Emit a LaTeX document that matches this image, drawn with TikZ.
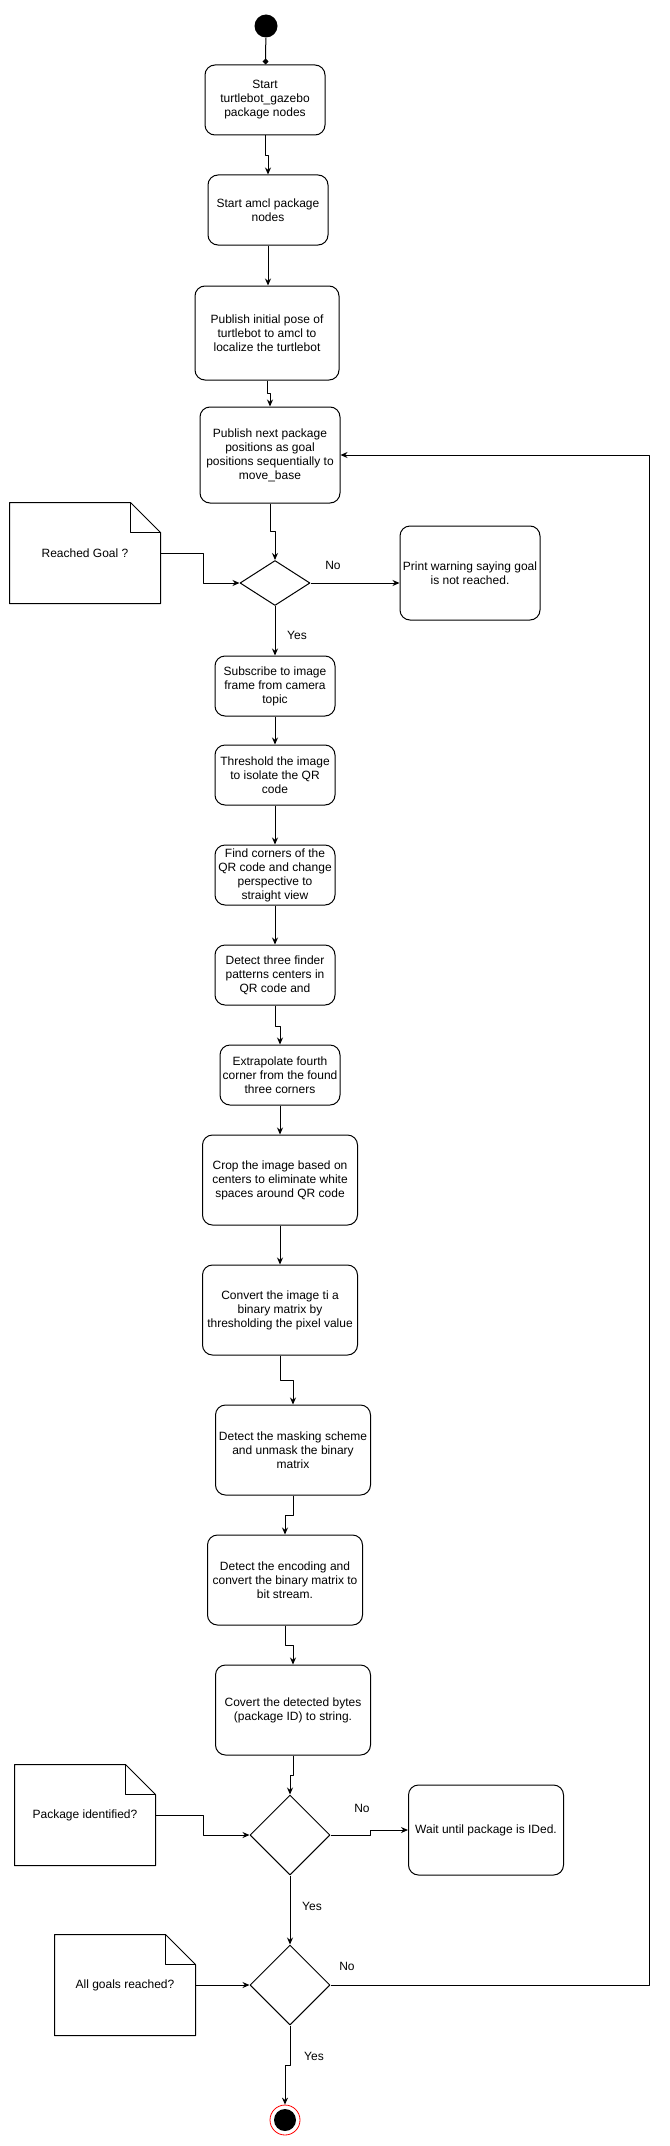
\documentclass[tikz,border=0pt]{standalone}
\usepackage{fontspec}
\setmainfont{Liberation Sans}
\usetikzlibrary{arrows.meta,shapes.geometric,calc}
\begin{document}
\begin{tikzpicture}[x=1pt,y=-1pt,>={Stealth[length=7pt,width=6pt]},line join=round,line width=1pt,
	font=\fontsize{12}{14}\selectfont,
	act/.style={draw,rounded corners=10pt,align=center,inner sep=1pt},
	dec/.style={draw,diamond,inner sep=0pt},
	note/.style={align=center,inner sep=0pt},
	lbl/.style={inner sep=0pt}]
	\useasboundingbox (0,0) rectangle (669,2146);
	\node[circle,fill,minimum size=23pt,inner sep=0pt] (start) at (266,26) {};
	\node[act,minimum width=120,minimum height=70] (b1) at (265,100) {Start\\turtlebot\_gazebo\\package nodes};
	\node[act,minimum width=120,minimum height=70] (b2) at (268,210) {Start amcl package\\nodes};
	\node[act,minimum width=144,minimum height=94] (b3) at (267,333) {Publish initial pose of\\turtlebot to amcl to\\localize the turtlebot};
	\node[act,minimum width=140,minimum height=96] (b4) at (270,455) {Publish next package\\positions as goal\\positions sequentially to\\move\_base};
	\node[dec,minimum width=70,minimum height=45] (d1) at (275,583) {};
	\node[note,minimum width=150,minimum height=100] (n1) at (85,553) {Reached Goal ?};
	\node[act,minimum width=140,minimum height=94] (warn) at (470,573) {Print warning saying goal\\is not reached.};
	\node[act,minimum width=120,minimum height=60] (b5) at (275,686) {Subscribe to image\\frame from camera\\topic};
	\node[act,minimum width=120,minimum height=60] (b6) at (275,775) {Threshold the image\\to isolate the QR\\code};
	\node[act,minimum width=120,minimum height=60] (b7) at (275,875) {Find corners of the\\QR code and change\\perspective to\\straight view};
	\node[act,minimum width=120,minimum height=60] (b8) at (275,975) {Detect three finder\\patterns centers in\\QR code and};
	\node[act,minimum width=120,minimum height=60] (b9) at (280,1075) {Extrapolate fourth\\corner from the found\\three corners};
	\node[act,minimum width=155,minimum height=90] (b10) at (280,1180) {Crop the image based on\\centers to eliminate white\\spaces around QR code};
	\node[act,minimum width=155,minimum height=90] (b11) at (280,1310) {Convert the image ti a\\binary matrix by\\thresholding the pixel value};
	\node[act,minimum width=155,minimum height=90] (b12) at (293,1450) {Detect the masking scheme\\and unmask the binary\\matrix};
	\node[act,minimum width=155,minimum height=90] (b13) at (285,1580) {Detect the encoding and\\convert the binary matrix to\\bit stream.};
	\node[act,minimum width=155,minimum height=90] (b14) at (293,1710) {Covert the detected bytes\\(package ID) to string.};
	\node[note,minimum width=140,minimum height=100] (n2) at (85,1815) {Package identified?};
	\node[dec,minimum width=80,minimum height=80] (d2) at (290,1835) {};
	\node[act,minimum width=155,minimum height=90] (wait) at (486,1830) {Wait until package is IDed.};
	\node[note,minimum width=140,minimum height=100] (n3) at (125,1985) {All goals reached?};
	\node[dec,minimum width=80,minimum height=80] (d3) at (290,1985) {};
	\node[circle,draw=red,fill=white,line width=0.8pt,minimum size=30pt,inner sep=0pt] (end) at (285,2120) {};
	\fill (end.center) circle (11pt);
	\coordinate (loop) at (649,1985);
	% notes with folded corner
	\foreach \n in {n1,n2,n3}{
		\draw ($(\n.north east)+(-30,0)$) -- ($(\n.north east)+(0,30)$) |- (\n.south west) |- cycle;
		\draw ($(\n.north east)+(-30,0)$) |- ($(\n.north east)+(0,30)$);
	}
	% flow
	\draw[-{Diamond[length=6pt,width=6pt]}] (start) -- (b1);
	\draw[->] (b1.south) -- ++(0,20) -| (b2.north);
	\draw[->] (b2.south) -- (b2.south |- b3.north);
	\draw[->] (b3.south) -- ++(0,13) -| (b4.north);
	\draw[->] (b4.south) -- ++(0,28) -| (d1.north);
	\draw[->] (n1.east) -- ++(43,0) |- (d1.west);
	\draw[->] (d1.east) -- (d1.east -| warn.west);
	\draw[->] (d1.south) -- (b5.north);
	\draw[->] (b5) -- (b6);
	\draw[->] (b6) -- (b7);
	\draw[->] (b7) -- (b8);
	\draw[->] (b8.south) -- ++(0,21) -| (b9.north);
	\draw[->] (b9) -- (b10);
	\draw[->] (b10) -- (b11);
	\draw[->] (b11.south) -- ++(0,25) -| (b12.north);
	\draw[->] (b12.south) -- ++(0,20) -| (b13.north);
	\draw[->] (b13.south) -- ++(0,20) -| (b14.north);
	\draw[->] (b14.south) -- ++(0,20) -| (d2.north);
	\draw[->] (n2.east) -- ++(48,0) |- (d2.west);
	\draw[->] (d2.east) -- ++(40,0) |- (wait.west);
	\draw[->] (d2) -- (d3);
	\draw[->] (n3.east) -- (d3.west);
	\draw[->] (d3.east) -- (loop) |- (b4.east);
	\draw[->] (d3.south) -- ++(0,40) -| (end.north);
	\node[lbl] at (333,565) {No};
	\node[lbl] at (297,635) {Yes};
	\node[lbl] at (362,1808) {No};
	\node[lbl] at (312,1906) {Yes};
	\node[lbl] at (347,1966) {No};
	\node[lbl] at (314,2056) {Yes};
\end{tikzpicture}
\end{document}
